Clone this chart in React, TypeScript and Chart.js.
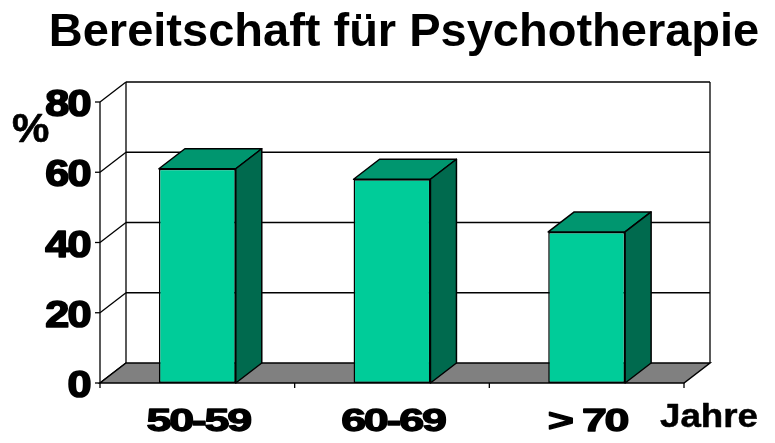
import React, { useEffect, useRef } from "react";
import { Chart, registerables } from "chart.js";

Chart.register(...registerables);

const TITLE = "Bereitschaft für Psychotherapie";
const categories = ["50-59", "60-69", "> 70"];
const values = [61, 58, 43];
const yTicks = [0, 20, 40, 60, 80];
const yUnit = "%";
const xUnit = "Jahre";

const FRONT = "#00CC99";
const TOP = "#00966F";
const SIDE = "#006A4E";
const FLOOR = "#808080";
const DX = 26;
const DY = -20;
const FONT = "'Liberation Sans', Arial, sans-serif";

function drawText(
  ctx: CanvasRenderingContext2D,
  text: string,
  x: number,
  y: number,
  size: number,
  sx: number,
  align: "left" | "center" | "right",
  ls: number,
  thick = 0
) {
  ctx.save();
  ctx.font = `bold ${size}px ${FONT}`;
  (ctx as any).letterSpacing = `${ls}px`;
  const w = ctx.measureText(text).width - ls;
  ctx.translate(x, y);
  ctx.scale(sx, 1);
  const x0 = align === "center" ? -w / 2 : align === "right" ? -w : 0;
  ctx.textAlign = "left";
  ctx.textBaseline = "alphabetic";
  ctx.fillStyle = "#000";
  ctx.fillText(text, x0, 0);
  if (thick > 0) {
    ctx.strokeStyle = "#000";
    ctx.lineWidth = thick;
    ctx.lineJoin = "round";
    ctx.strokeText(text, x0, 0);
  }
  ctx.restore();
}

function line(ctx: CanvasRenderingContext2D, x1: number, y1: number, x2: number, y2: number) {
  ctx.beginPath();
  ctx.moveTo(x1, y1);
  ctx.lineTo(x2, y2);
  ctx.stroke();
}

function poly(ctx: CanvasRenderingContext2D, pts: number[][], fill: string) {
  ctx.beginPath();
  ctx.moveTo(pts[0][0], pts[0][1]);
  for (let i = 1; i < pts.length; i++) ctx.lineTo(pts[i][0], pts[i][1]);
  ctx.closePath();
  ctx.fillStyle = fill;
  ctx.fill();
  ctx.stroke();
}

const threeD = {
  id: "threeD",
  beforeDatasetsDraw(chart: any) {
    const { ctx, chartArea, scales } = chart;
    const { left, right, top, bottom } = chartArea;
    const y = scales.y;
    const x = scales.x;
    ctx.save();
    ctx.strokeStyle = "#000";
    ctx.lineWidth = 1.3;
    const bl = left + DX;
    const br = right + DX;
    yTicks.forEach((v) => {
      const py = y.getPixelForValue(v);
      if (v !== 0) line(ctx, bl, py + DY, br, py + DY);
      line(ctx, left, py, bl, py + DY);
    });
    line(ctx, bl, top + DY, bl, bottom + DY);
    line(ctx, br, top + DY, br, bottom + DY);
    line(ctx, left, top, left, bottom);
    // floor
    ctx.lineWidth = 1.5;
    poly(
      ctx,
      [
        [left, bottom],
        [right, bottom],
        [br, bottom + DY],
        [bl, bottom + DY],
      ],
      FLOOR
    );
    // y ticks
    ctx.lineWidth = 1.3;
    yTicks.forEach((v) => {
      const py = y.getPixelForValue(v);
      line(ctx, left - 5, py, left, py);
    });
    // x ticks at category boundaries
    const n = categories.length;
    const bounds: number[] = [left];
    for (let i = 1; i < n; i++) {
      bounds.push((x.getPixelForValue(i - 1) + x.getPixelForValue(i)) / 2);
    }
    bounds.push(right);
    bounds.forEach((bx) => line(ctx, bx, bottom, bx, bottom + 5));
    ctx.restore();
  },
  afterDatasetsDraw(chart: any) {
    const { ctx, chartArea, scales } = chart;
    const { left, bottom } = chartArea;
    const y = scales.y;
    const x = scales.x;
    const meta = chart.getDatasetMeta(0);
    ctx.save();
    ctx.strokeStyle = "#000";
    ctx.lineWidth = 1.5;
    ctx.lineJoin = "round";
    meta.data.forEach((bar: any) => {
      const l = bar.x - bar.width / 2;
      const r = bar.x + bar.width / 2;
      const t = bar.y;
      const b = bar.base;
      poly(ctx, [[l, t], [r, t], [r + DX, t + DY], [l + DX, t + DY]], TOP);
      poly(ctx, [[r, t], [r + DX, t + DY], [r + DX, b + DY], [r, b]], SIDE);
    });
    ctx.restore();

    // y tick labels
    yTicks.forEach((v) => {
      const py = y.getPixelForValue(v);
      drawText(ctx, String(v), left - 8.5, py + 14, 36, 1.2, "right", -1.5, 1.6);
    });
    drawText(ctx, yUnit, 12, 142, 40, 1.05, "left", 0, 0.6);
    // x labels
    categories.forEach((c, i) => {
      const px = x.getPixelForValue(i);
      drawText(ctx, c, px + 2, bottom + 48, 32, 1.4, "center", -1.6, 1.3);
    });
    drawText(ctx, xUnit, 660, bottom + 44, 34, 1.08, "left", 0, 0.5);
    // title
    drawText(ctx, TITLE, 404, 46, 47, 1, "center", 0);
  },
};

export default function App() {
  const ref = useRef<HTMLCanvasElement | null>(null);
  useEffect(() => {
    if (!ref.current) return;
    const chart = new Chart(ref.current, {
      type: "bar",
      data: {
        labels: categories,
        datasets: [
          {
            data: values,
            backgroundColor: FRONT,
            borderColor: "#000",
            borderWidth: 1.5,
            borderSkipped: false,
            categoryPercentage: 1,
            barPercentage: 0.395,
          } as any,
        ],
      },
      options: {
        responsive: false,
        animation: false,
        devicePixelRatio: 1,
        layout: { padding: { left: 100, right: 91, top: 102, bottom: 60 } },
        plugins: { legend: { display: false }, title: { display: false }, tooltip: { enabled: false } },
        scales: {
          x: { display: false, offset: true },
          y: { display: false, min: 0, max: 80 },
        },
      },
      plugins: [threeD],
    });
    return () => chart.destroy();
  }, []);
  return (
    <div style={{ position: "fixed", left: 0, top: 0, width: 775, height: 443, background: "#fff" }}>
      <canvas ref={ref} width={775} height={443} />
    </div>
  );
}
